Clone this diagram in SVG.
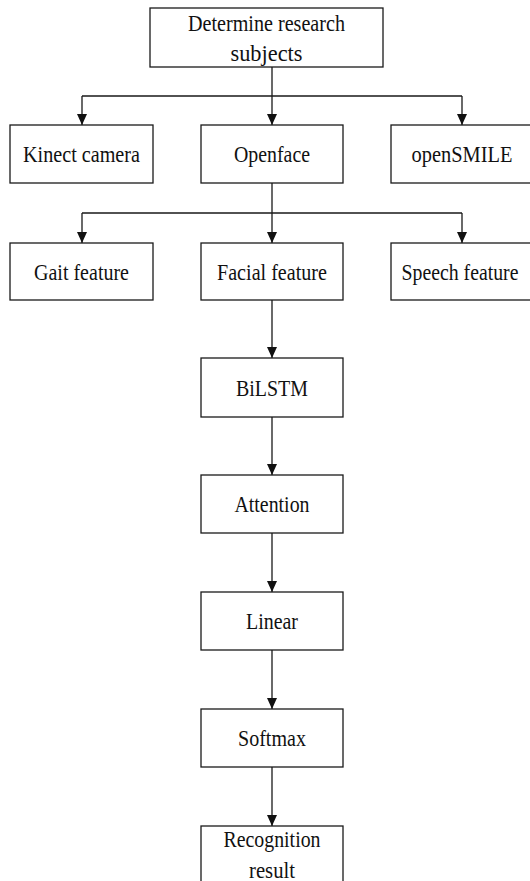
<svg xmlns="http://www.w3.org/2000/svg" width="530" height="881" viewBox="0 0 530 881">
<style>
.box{fill:#fff;stroke:#1a1a1a;stroke-width:1.3}
.t{font-family:"Liberation Serif","Times New Roman",Tinos,"DejaVu Serif",serif;font-size:23px;fill:#111;text-anchor:middle}
.c{stroke:#1a1a1a;stroke-width:1.3;fill:none}
.a{marker-end:url(#ah)}
</style>
<defs>
<marker id="ah" markerUnits="userSpaceOnUse" markerWidth="12" markerHeight="12" viewBox="0 0 12 12" refX="11" refY="6" orient="auto">
<path d="M0,1 L11,6 L0,11 Z" fill="#111"/>
</marker>
</defs>
<rect width="530" height="881" fill="#fff"/>
<g id="connectors">
<path class="c" d="M272,67 V96 M82,96 H462"/>
<path class="c a" d="M82,96 V125"/>
<path class="c a" d="M272,96 V125"/>
<path class="c a" d="M462,96 V125"/>
<path class="c" d="M272,183 V213 M82,213 H462"/>
<path class="c a" d="M82,213 V243"/>
<path class="c a" d="M272,213 V243"/>
<path class="c a" d="M462,213 V243"/>
<path class="c a" d="M272,300 V358"/>
<path class="c a" d="M272,417 V475"/>
<path class="c a" d="M272,533 V592"/>
<path class="c a" d="M272,650 V709"/>
<path class="c a" d="M272,767 V826"/>
</g>
<g id="determine">
<rect class="box" x="150" y="8" width="233" height="59"/>
<text class="t" x="266.5" y="31" textLength="157" lengthAdjust="spacingAndGlyphs">Determine research</text>
<text class="t" x="266.5" y="61" textLength="72" lengthAdjust="spacingAndGlyphs">subjects</text>
</g>
<g id="kinect">
<rect class="box" x="10" y="125" width="143" height="58"/>
<text class="t" x="81.5" y="162" textLength="117" lengthAdjust="spacingAndGlyphs">Kinect camera</text>
</g>
<g id="openface">
<rect class="box" x="201" y="125" width="142" height="58"/>
<text class="t" x="272" y="162" textLength="76" lengthAdjust="spacingAndGlyphs">Openface</text>
</g>
<g id="opensmile">
<rect class="box" x="391" y="125" width="143" height="58"/>
<text class="t" x="462" y="162" textLength="101" lengthAdjust="spacingAndGlyphs">openSMILE</text>
</g>
<g id="gait">
<rect class="box" x="10" y="243" width="143" height="57"/>
<text class="t" x="81.5" y="279.5" textLength="95" lengthAdjust="spacingAndGlyphs">Gait feature</text>
</g>
<g id="facial">
<rect class="box" x="201" y="243" width="142" height="57"/>
<text class="t" x="272" y="279.5" textLength="110" lengthAdjust="spacingAndGlyphs">Facial feature</text>
</g>
<g id="speech">
<rect class="box" x="391" y="243" width="143" height="57"/>
<text class="t" x="460" y="279.5" textLength="117" lengthAdjust="spacingAndGlyphs">Speech feature</text>
</g>
<g id="bilstm">
<rect class="box" x="201" y="358" width="142" height="59"/>
<text class="t" x="272" y="395.5" textLength="72" lengthAdjust="spacingAndGlyphs">BiLSTM</text>
</g>
<g id="attention">
<rect class="box" x="201" y="475" width="142" height="58"/>
<text class="t" x="272" y="512" textLength="75" lengthAdjust="spacingAndGlyphs">Attention</text>
</g>
<g id="linear">
<rect class="box" x="201" y="592" width="142" height="58"/>
<text class="t" x="272" y="629" textLength="52" lengthAdjust="spacingAndGlyphs">Linear</text>
</g>
<g id="softmax">
<rect class="box" x="201" y="709" width="142" height="58"/>
<text class="t" x="272" y="746" textLength="68" lengthAdjust="spacingAndGlyphs">Softmax</text>
</g>
<g id="recognition">
<rect class="box" x="201" y="826" width="142" height="70"/>
<text class="t" x="272" y="847" textLength="97" lengthAdjust="spacingAndGlyphs">Recognition</text>
<text class="t" x="272" y="878" textLength="46" lengthAdjust="spacingAndGlyphs">result</text>
</g>
</svg>
